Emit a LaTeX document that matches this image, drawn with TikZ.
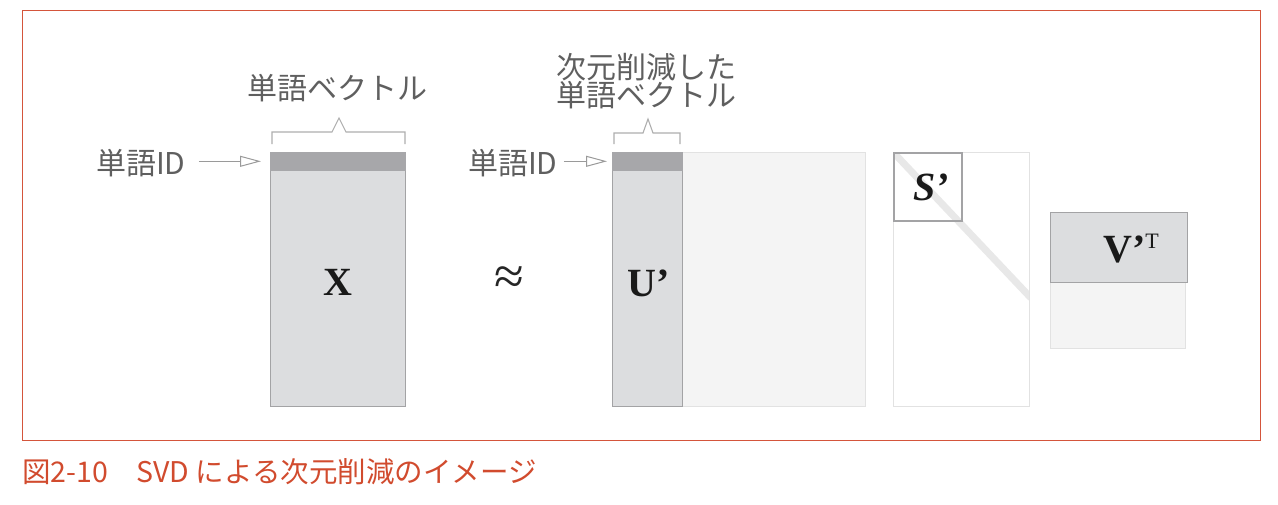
\documentclass[tikz,border=0pt]{standalone}
\usepackage{fontspec}
\setmainfont{Liberation Serif}
\newfontfamily\jp{Noto Sans CJK JP}
\usetikzlibrary{arrows.meta}
\definecolor{framec}{HTML}{D4553B}
\definecolor{capc}{HTML}{D14B2E}
\definecolor{matfill}{HTML}{DCDDDF}
\definecolor{matline}{HTML}{A3A3A5}
\definecolor{barfill}{HTML}{A7A7AA}
\definecolor{lightfill}{HTML}{F4F4F4}
\definecolor{lightline}{HTML}{E2E2E2}
\definecolor{diagc}{HTML}{E8E8E8}
\definecolor{lblc}{HTML}{5F5F5F}
\definecolor{arrc}{HTML}{9A9A9A}
\tikzset{
  box/.style={rectangle, inner sep=0pt, anchor=north west},
  mat/.style={box, fill=matfill, draw=matline, line width=1.2pt},
  barbox/.style={box, fill=barfill, draw=barfill, line width=0.6pt},
  lightbox/.style={box, fill=lightfill, draw=lightline, line width=1.2pt},
  whitebox/.style={box, fill=white, draw=lightline, line width=1.2pt},
  lbl/.style={text=lblc, font=\jp\fontsize{30}{28}\selectfont, inner sep=0pt},
  big/.style={font=\bfseries\fontsize{40}{40}\selectfont, text=black!90, inner sep=0pt},
  arr/.style={draw=arrc, line width=1pt, -{Triangle[open, length=21pt, width=11pt, line width=1pt]}},
  brk/.style={draw=arrc!80, line width=1.1pt, line join=miter},
}
\begin{document}
\begin{tikzpicture}[x=1pt,y=-1pt]
\useasboundingbox (0,0) rectangle (1278,504);
\draw[framec, line width=1pt] (22,10) rectangle (1260,440);

% X
\node[mat, minimum width=135pt, minimum height=254pt] (X) at (270,152) {};
\node[barbox, minimum width=135pt, minimum height=18pt] (xbar) at (270,152) {};
\node[big] (xt) at (338,282) {X};

% approx
\node[inner sep=0pt, font=\fontsize{54}{54}\selectfont, text=black!85] (ap) at (509,281) {≈};

% U'
\node[lightbox, minimum width=183pt, minimum height=254pt] (Urest) at (682,152) {};
\node[mat, minimum width=70pt, minimum height=254pt] (U) at (612,152) {};
\node[barbox, minimum width=70pt, minimum height=18pt] (ubar) at (612,152) {};
\node[big] (ut) at (649,283) {U’};

% S'
\node[whitebox, minimum width=136pt, minimum height=254pt] (S) at (893,152) {};
\begin{scope}
\clip (893,152) rectangle (1029,406);
\draw[diagc, line width=7pt] (893,152) -- (1031,298);
\end{scope}
\node[box, draw=matline, line width=2pt, minimum width=68pt, minimum height=68pt] (Sin) at (893,152) {};
\node[big, font=\bfseries\itshape\fontsize{40}{40}\selectfont] (st) at (931,187) {S’};

% V'T
\node[lightbox, minimum width=135pt, minimum height=66pt] (Vrest) at (1050,282) {};
\node[mat, minimum width=137pt, minimum height=70pt] (V) at (1050,212) {};
\node[big, anchor=base] (vt) at (1131,262) {V’\raisebox{14pt}{\mdseries\fontsize{22}{22}\selectfont T}};

% labels
\node[lbl] (lx) at (337,88) {単語ベクトル};
\node[lbl, align=center] (lu) at (646,81) {\jp\fontsize{30}{28}\selectfont 次元削減した\\\jp\fontsize{30}{28}\selectfont 単語ベクトル};
\node[lbl, anchor=west] (idA) at (96,163) {単語ID};
\node[lbl, anchor=west] (idB) at (468,163) {単語ID};

% arrows
\draw[arr, shorten <=13pt, shorten >=9pt] (xbar.west -| idA.east) -- (xbar.west);
\draw[arr, shorten <=6pt, shorten >=5pt] (ubar.west -| idB.east) -- (ubar.west);

% brackets
\draw[brk] (272,144) -- (272,132) -- (332,132) -- (339,118) -- (346,132) -- (405,132) -- (405,144);
\draw[brk] (614,144) -- (614,133) -- (643,133) -- (648,119) -- (653,133) -- (680,133) -- (680,144);

% caption
\node[anchor=base west, inner sep=0pt, text=capc, font=\jp\fontsize{28.5}{29}\selectfont] (cap) at (22,482) {図2-10　SVD による次元削減のイメージ};
\end{tikzpicture}
\end{document}
